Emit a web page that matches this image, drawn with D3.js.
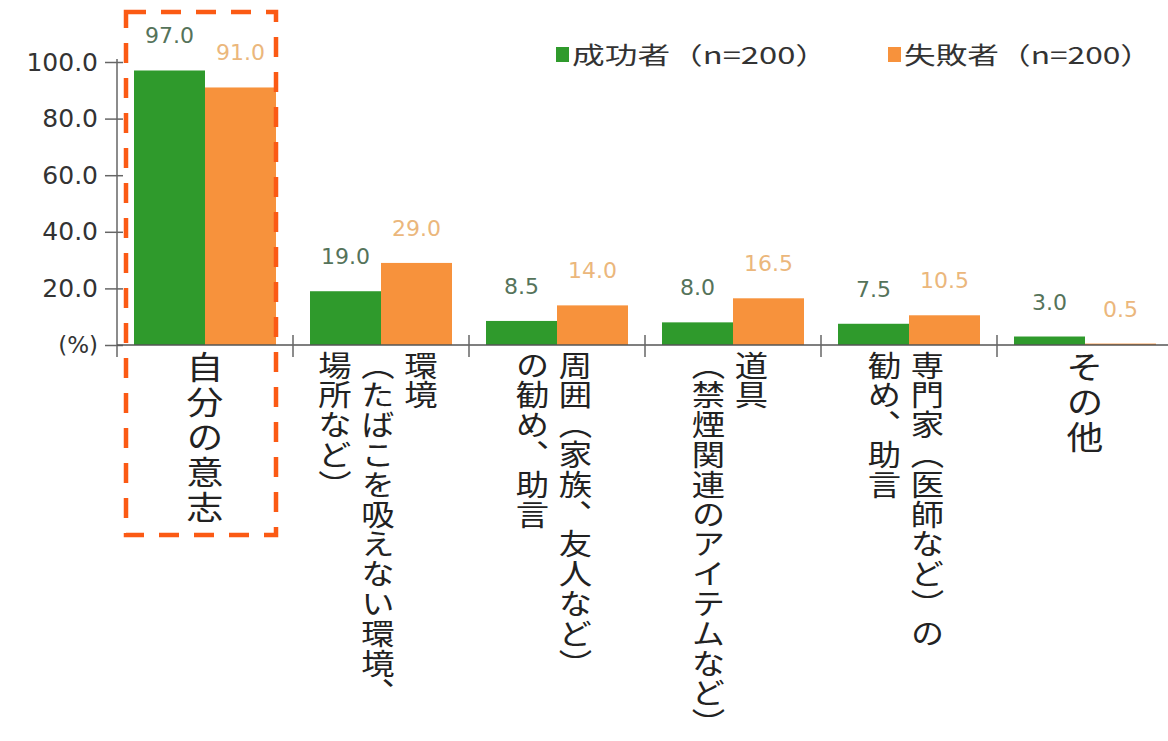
<!DOCTYPE html>
<html><head><meta charset="utf-8">
<script src="https://cdn.jsdelivr.net/npm/d3@7"></script>
<style>
html,body{margin:0;padding:0;background:#fff;}
svg{display:block;}
.vlabel{writing-mode:vertical-rl;text-spacing-trim:space-all;font-kerning:none;}
</style></head>
<body>
<script>
// ---- data ----
const categories = ["自分の意志","環境（たばこを吸えない環境、場所など）","周囲（家族、友人など）の勧め、助言","道具（禁煙関連のアイテムなど）","専門家（医師など）の勧め、助言","その他"];
const categoryLines = [
  ["自分の意志"],
  ["環境","（たばこを吸えない環境、","場所など）"],
  ["周囲（家族、友人など）","の勧め、助言"],
  ["道具","（禁煙関連のアイテムなど）"],
  ["専門家（医師など）の","勧め、助言"],
  ["その他"]
];
const seriesNames = ["成功者（n=200）","失敗者（n=200）"];
const success = [97.0, 19.0, 8.5, 8.0, 7.5, 3.0];
const failure = [91.0, 29.0, 14.0, 16.5, 10.5, 0.5];
const yTicks = [0, 20, 40, 60, 80, 100];

// ---- layout ----
const W = 1168, H = 741;
const colors = ["#2f9a2c", "#f7923c"];
const labelColors = ["#55735a", "#ebb77c"];

const svg = d3.select("body").append("svg").attr("width", W).attr("height", H);

const y = d3.scaleLinear().domain([0, 100]).range([345, 62]);
const x0 = d3.scaleBand().domain(categories).range([117, 117 + 176 * categories.length]).padding(0);
const x1 = d3.scaleBand().domain(seriesNames).range([17, 159]).padding(0);

const series = [success, failure];

// bars
series.forEach((vals, si) => {
  svg.append("g").selectAll("rect").data(vals).join("rect")
    .attr("x", (d, i) => x0(categories[i]) + x1(seriesNames[si]))
    .attr("width", x1.bandwidth())
    .attr("y", d => y(d))
    .attr("height", d => y(0) - y(d))
    .attr("fill", colors[si]);
});

// value labels
series.forEach((vals, si) => {
  svg.append("g").selectAll("text").data(vals).join("text")
    .attr("x", (d, i) => x0(categories[i]) + x1(seriesNames[si]) + x1.bandwidth() / 2)
    .attr("y", d => y(d) - 27)
    .attr("text-anchor", "middle")
    .attr("font-family", "DejaVu Sans")
    .attr("font-size", 22)
    .attr("fill", labelColors[si])
    .text(d => d.toFixed(1));
});

// y axis
const yAxis = d3.axisLeft(y).tickValues(yTicks).tickSize(12).tickPadding(7)
  .tickFormat(d => d === 0 ? "(%)" : d.toFixed(1));
const gy = svg.append("g").attr("transform", "translate(117,0)").call(yAxis);
gy.select(".domain").remove();
gy.selectAll(".tick line").attr("x1", 6).attr("stroke", "#666").attr("stroke-width", 1.5);
gy.selectAll(".tick text").attr("font-family", "DejaVu Sans").attr("font-size", d => d === 0 ? 23 : 25).attr("fill", "#333");
gy.append("line").attr("x1", 0).attr("x2", 0).attr("y1", y(100) - 3).attr("y2", y(0) + 12)
  .attr("stroke", "#666").attr("stroke-width", 1.5);

// x axis
const gx = svg.append("g");
gx.append("line").attr("x1", 117).attr("x2", W).attr("y1", y(0)).attr("y2", y(0))
  .attr("stroke", "#555").attr("stroke-width", 1.5);
gx.selectAll("line.tk").data(categories.slice(1)).join("line").attr("class", "tk")
  .attr("x1", d => x0(d)).attr("x2", d => x0(d))
  .attr("y1", y(0) - 10).attr("y2", y(0) + 12)
  .attr("stroke", "#666").attr("stroke-width", 1.5);

// category labels (vertical)
categoryLines.forEach((lines, ci) => {
  const cx = x0(categories[ci]) + x0.bandwidth() / 2;
  const single = lines.length === 1;
  const fs = single ? 32 : 29;
  const pitch = 43;
  const n = lines.length;
  lines.forEach((ln, li) => {
    // columns read right to left
    const colX = single ? cx : cx - 3 + ((n - 1) / 2 - li) * pitch;
    svg.append("text")
      .attr("class", "vlabel")
      .attr("transform", `translate(${colX},351) scale(1.15,1)`)
      .attr("x", 0).attr("y", 0)
      .attr("font-family", "Noto Sans CJK JP")
      .attr("font-size", fs)
      .attr("letter-spacing", single ? 3 : 0.8)
      .attr("fill", "#222")
      .text(ln);
  });
});

// legend
const legendX = [556, 888];
const legendW = [256, 248];
seriesNames.forEach((nm, si) => {
  svg.append("rect").attr("x", legendX[si]).attr("y", 47).attr("width", 13).attr("height", 15).attr("fill", colors[si]);
  svg.append("text").attr("x", legendX[si] + 16).attr("y", 64)
    .attr("font-family", "Noto Sans CJK JP").attr("font-size", 24).attr("fill", "#333")
    .attr("textLength", legendW[si]).attr("lengthAdjust", "spacingAndGlyphs")
    .text(nm);
});

// highlight dashed box around first category
svg.append("rect")
  .attr("x", x0(categories[0]) + 9).attr("y", 12)
  .attr("width", x0.bandwidth() - 26).attr("height", 523)
  .attr("fill", "none").attr("stroke", "#fb5a14").attr("stroke-width", 4.5)
  .attr("stroke-dasharray", "20,15");
</script>
</body></html>
